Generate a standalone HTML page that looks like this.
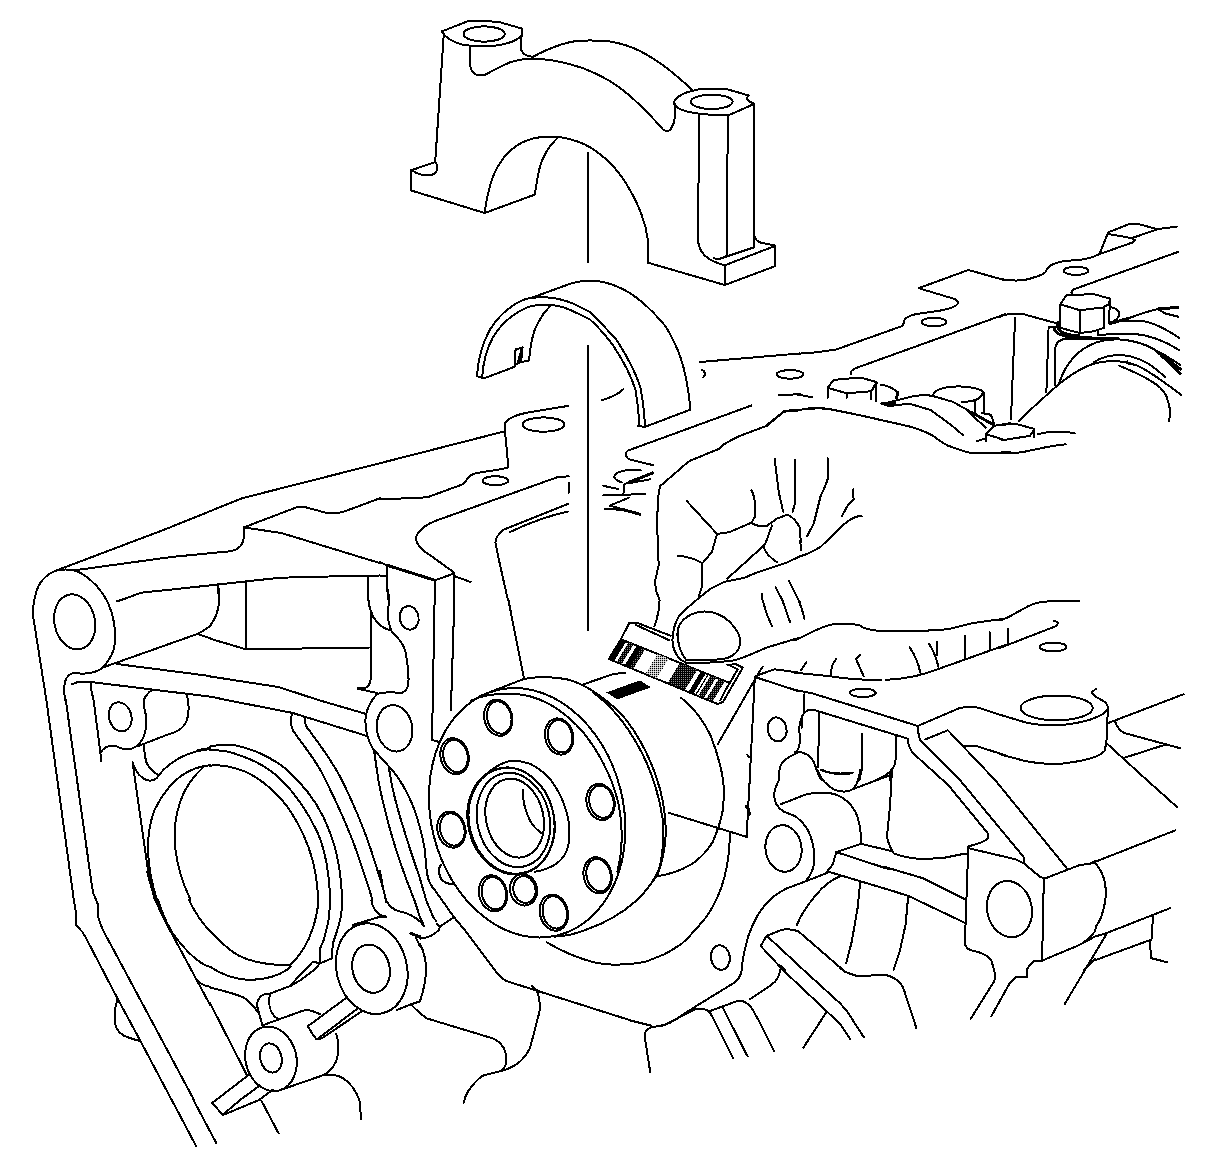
<!DOCTYPE html>
<html><head><meta charset="utf-8">
<style>
html,body{margin:0;padding:0;background:#fff;}
body{width:1223px;height:1168px;overflow:hidden;font-family:"Liberation Sans",sans-serif;}
svg{display:block}
svg *{vector-effect:non-scaling-stroke;shape-rendering:crispEdges}
.l{fill:none;stroke:#000;stroke-width:2;stroke-linecap:round;stroke-linejoin:round}
.t{fill:none;stroke:#000;stroke-width:3;stroke-linecap:round;stroke-linejoin:round}
.w{fill:#fff;stroke:#000;stroke-width:2;stroke-linejoin:round}
.k{fill:#000;stroke:none}
</style></head><body>
<svg width="1223" height="1168" viewBox="0 0 1223 1168">
<rect x="0" y="0" width="1223" height="1168" fill="#fff"/>

<!-- 01_cap.svg -->
<g class="l" id="cap">
<!-- left boss -->
<path d="M441.7,31.5 L468.7,20.8 L497.9,21.7 L521.6,28.5 L521.6,36"/>
<path d="M441.7,31.5 C446,38 452,42 462,44.5 C472,46.5 488,47 500,45 C510,43 518,40 521,35.8"/>
<ellipse cx="484.1" cy="34" rx="20.6" ry="7.7"/>
<path d="M521.6,35.8 C521,42 520.5,47 521.5,50.5 C523,54 527,56.5 533,56.7 C540,53 546,50 554.5,46.9 C562,44 570,41.5 578.6,40.9 C590,40 600,40.5 610,41.5 C622,43.5 632,47 641,51.5 C652,57.5 662,64 671.9,72.1 C680,79 686,84 692.5,90"/>
<path d="M470.4,46 L470.4,66.7 C471,70.5 473,73.5 477,75 C480,75.8 483,75.5 485.9,74.4 C493,70.5 501,66 509.9,62.4 C517,60 525,58.8 532.2,58.6 C540,58.8 547,59.5 554.5,60.7 C565,62.5 574,65 583.7,68.4 C593,72 602,76.5 610,81 C619,87 627,93 634.1,99.6 C642,107 648,113 654.7,120.2 C658,124 661,127.5 663.3,129.8 C666,131 668.5,131 670.2,129.8 C673,126 674.4,122 674.6,118.5 L674.6,103"/>
<path d="M443.8,34 L435.2,162"/>
<path d="M410.6,170.5 L435.2,162 C437,164 437.8,166.5 437.4,168.5 C436.8,171.5 434.5,174 431.8,174.8 L422.3,174.8 C418,174 415,172.5 412.9,171"/>
<path d="M410.6,170.5 L410.6,190.3 L484.7,213"/>
<path d="M484.7,213 C486,203 487.5,195 489.3,188.6 C491.5,180 494,173 497.9,166.2 C503,157.5 509,151 516.8,145.6 C524,141 531,138.5 539.1,137.4 C546,136.6 553,136.6 559.7,137.1 C568,138.5 576,140.5 583.7,143.9 C593,148.5 602,155 610,163 C617,170 622.5,177.5 627.3,185.4 C633,195 637.5,204 641,212.9 C644.5,222 646.8,231 647.9,240.4 L647.9,262.7"/>
<path d="M558,137.4 C552.5,143 548.5,147.5 545.9,152.5 C542.5,158.5 540.5,164 539.1,169.7 C537.5,178 536,186 534.8,194.6 L484.7,213"/>
<!-- right boss -->
<path d="M673.8,102.4 C675,99 677,97.5 679.2,96.2 C683,93.5 687,92 692.3,90.9 C697,89.5 701,89 705.4,88.6 L725,88.6 L748.6,95.5 L746.6,98.1 L749.2,101.4 L754.5,103.8 L730.3,114.5 C726,115 722,115.2 718.5,115.1 C711,114.8 705,114.3 698.9,113.6 C695,113 691,112.5 688.4,111.9 C683,110.5 680,109.5 677.9,107.9 C675.5,106 674,104.5 673.8,102.4"/>
<ellipse cx="711.7" cy="101.8" rx="20.9" ry="7.2"/>
<path d="M698.9,113.6 L698.2,242 C699.9,254.2 708.5,261 724.8,265.3"/>
<path d="M713.6,258 C716,259 719,259 720.5,258.5 L754,247.3"/>
<path d="M727.9,115 L726.5,257"/>
<path d="M754.1,104 L754.3,247.3"/>
<path d="M647.9,262.7 L724.8,285 L775.4,266 L775.4,245.6 L759.1,242.2 C757.5,241.5 756,240 754.8,237"/>
<path d="M724.8,285 L724.8,265.3 L775.4,245.8"/>
</g>
<!-- centre line -->
<g class="l"><path d="M587.7,152.5 L587.7,262"/><path d="M587.7,346 L587.7,630"/></g>

<!-- 02_tileC.svg -->
<g transform="translate(1000,200) scale(0.171709)">
<g class="l">
<path d="M1030,155 L915,170 L800,138 L762,137 L630,188 L580,313"/>
<path d="M630,198 L768,222 L915,171"/>
<path d="M768,222 L785,233 L770,248 L580,315"/>
<path d="M580,315 C540,335 480,350 420,352 C360,355 300,365 275,400 C270,425 250,435 200,450 C150,470 80,475 0,460"/>
<ellipse cx="443" cy="412" rx="72" ry="24"/>
<path d="M1035,303 L430,520 C415,528 413,538 420,545"/>
<!-- bolt -->
<path d="M352,608 L385,555 L545,548 L643,575 L632,608 L600,626 L465,642 Z"/>
<path d="M352,608 L352,745 L465,775 L545,765 L605,745"/>
<path d="M465,642 L465,775"/><path d="M605,626 L605,745"/><path d="M643,575 L632,715"/>
<path d="M650,625 C680,632 695,645 695,665 C692,685 670,705 640,715"/>
<path d="M0,680 C30,665 80,660 130,663 L330,718"/>
<path d="M88,685 L68,1165"/>
<path d="M330,740 L283,742 L270,1120"/>
<path d="M320,1080 L320,880 C320,840 340,815 380,808 L690,806"/>
<path d="M570,770 L570,785 L770,778 C860,785 960,820 1045,875"/>
<path d="M640,715 C700,700 760,700 830,705 C900,715 980,760 1045,805"/>
<path d="M745,690 C800,670 870,645 930,632 L1040,625"/>
<path d="M920,635 L960,660 L1040,680"/>
<path d="M345,1065 C380,960 450,870 560,830 C650,800 760,810 860,850 C920,880 990,920 1050,960"/>
<path d="M240,1165 C330,1080 420,1000 540,955 C640,925 720,935 800,965 C880,1000 980,1080 1055,1135"/>
<path d="M545,945 C600,910 680,895 760,910 C840,930 910,980 960,1030"/>
<path d="M695,965 C780,1000 870,1040 930,1090 C960,1120 975,1150 975,1165"/>
<path d="M740,940 L750,955 L790,960"/>
</g>
<g class="t">
<path d="M340,712 C328,730 335,755 360,770 C390,785 430,790 460,790"/>
<path d="M315,745 C315,770 340,790 430,800 L600,806"/>
<path d="M640,720 L745,690"/>
<path d="M920,635 L1035,625"/>
<path d="M910,880 L1050,985"/><path d="M940,905 L1050,1010"/><path d="M1000,960 L1040,1000"/>
</g>
</g>

<!-- 03_tileD.svg -->
<g transform="translate(795,225) scale(0.171709)">
<g class="l">
<path d="M0,750 C80,748 160,738 240,725 L620,590 C640,580 628,565 640,550 C660,525 700,518 780,508 C860,500 940,480 950,455 C950,440 935,432 920,428 L720,368 L1010,262 L1223,322"/>
<ellipse cx="810" cy="565" rx="72" ry="25"/>
<path d="M1223,520 L350,835 C330,845 322,855 328,868"/>
<path d="M190,948 L225,902 L380,888 L475,915 L445,968 L300,980 Z"/>
<path d="M190,948 L190,1005"/><path d="M300,980 L300,1010"/><path d="M445,968 L445,1015"/><path d="M475,915 L472,1028"/>
<path d="M500,930 C550,935 590,960 600,985"/>
<path d="M0,985 L100,1003"/>
<path d="M0,1080 C60,1070 120,1062 200,1072 C350,1100 500,1135 630,1165"/>
<path d="M805,990 C810,960 870,940 960,940 C1040,942 1090,960 1098,975 L1098,1090"/>
<path d="M1090,985 C1080,1010 1040,1030 970,1030"/>
<path d="M1050,1030 L1050,1090"/>
<path d="M505,1040 C560,1035 620,1010 700,995 C740,990 770,990 800,995 L920,1030 L1160,1165"/>
<path d="M505,1040 L545,1055 L665,1040 L790,1078 L910,1165"/>
<path d="M1090,1095 L1140,1105 L1155,1140"/>
<path d="M1003,1081 L1110,1180"/>
</g>
<g class="t">
<path d="M598,975 L592,1008"/>
<path d="M505,1040 L580,1040"/>
<path d="M1030,1092 L1150,1160"/>
</g>
</g>

<!-- 04_tileE.svg -->
<g transform="translate(590,225) scale(0.171709)">
<g class="l">
<path d="M0,325 C60,322 120,340 180,368 C260,405 340,470 440,590 C500,690 560,800 585,1075 L320,1176 L280,1170 L288,1165"/>
<path d="M0,507 C55,560 110,620 155,670 C220,770 270,870 295,950 C310,1040 318,1100 320,1176"/>
<path d="M0,550 C50,597 100,650 140,710 C200,800 240,880 265,960 C280,1050 285,1110 288,1165"/>
<path d="M70,1020 C120,1005 170,985 195,955"/>
<path d="M640,798 L1223,748"/>
<path d="M650,843 C670,850 675,870 660,888"/>
<ellipse cx="1165" cy="870" rx="78" ry="25"/>
<path d="M1100,992 L1223,985"/>
<path d="M1030,1165 L1130,1085 C1160,1078 1190,1075 1223,1075"/>
</g>
</g>

<!-- 05_tileF.svg -->
<g transform="translate(380,225) scale(0.171709)">
<g class="l">
<path d="M565,880 C570,790 590,700 640,610 C690,530 760,465 850,430 C950,410 1050,425 1130,460 C1170,480 1200,495 1223,507"/>
<path d="M595,890 C600,800 620,720 660,650 C710,570 780,510 870,475 C950,455 1040,465 1110,495 C1160,520 1200,538 1223,550"/>
<path d="M880,425 L1100,345 C1140,330 1180,325 1223,325"/>
<path d="M565,880 L595,890 L620,888 L785,825 L785,760 L790,725 L830,713 L822,798"/>
<path d="M790,812 L822,798 L868,790 C872,750 876,720 880,690 C888,655 895,625 905,600 C920,570 935,545 950,520 C965,500 980,485 995,468"/>
</g>
<g class="t"><path d="M826,728 L806,800"/></g>
</g>

<!-- 06_tileG.svg -->
<g transform="translate(380,400) scale(0.171709)">
<g class="l">
<path d="M1098,34 L850,75 C790,88 740,105 727,140 L728,182 L0,368"/>
<path d="M728,182 L748,392 C700,410 620,412 545,430 C510,445 500,475 485,490 L280,565 L230,570 L0,578"/>
<ellipse cx="952" cy="143" rx="122" ry="42"/>
<ellipse cx="672" cy="470" rx="75" ry="26"/>
<path d="M1100,445 L1040,447 L320,705 C260,730 215,765 208,810 C215,850 250,880 300,910 L432,1005 L432,1165"/>
<path d="M432,1025 L528,1060"/>
<path d="M0,945 L40,962 L320,1050 L432,1010"/>
<path d="M40,962 L40,1090 L50,1165"/><path d="M320,1050 L320,1165"/>
<path d="M0,1022 L40,1025"/>
<path d="M1095,605 L720,755 C690,780 672,800 672,830 L690,920 L745,1165"/>
<path d="M1095,650 C1000,670 900,700 755,770"/>
<path d="M1100,485 L1098,540"/>
</g>
<g class="t"><path d="M40,962 L320,1050"/></g>
</g>

<!-- 07_tileH.svg -->
<g transform="translate(170,400) scale(0.171709)">
<g class="l">
<path d="M1223,368 L420,572 L0,742"/>
<path d="M1223,572 L1000,655 L910,657 L780,622 L745,622 L430,742"/>
<path d="M430,742 L430,800 C425,850 400,870 360,880 L0,915"/>
<path d="M430,742 L650,775 L1223,950"/>
<path d="M0,1105 L640,1035 L1040,1025 L1223,1022"/>
<path d="M278,1070 L285,1165"/><path d="M442,1055 L442,1165"/><path d="M1155,1025 L1155,1165"/>
</g>
</g>

<!-- 08_tileI.svg -->
<g transform="translate(0,500) scale(0.171709)">
<g class="l">
<path d="M990,160 L330,410"/>
<path d="M990,333 L430,410"/>
<path d="M990,522 L820,540 C770,560 720,580 680,590"/>
<path d="M330,410 C270,430 225,480 210,540 C195,590 190,640 195,690 L270,1165"/>
<path d="M330,410 C380,400 430,405 470,425 C530,460 590,520 630,600 C660,670 675,750 670,830 C665,890 640,930 600,975 C570,1000 520,1015 460,1010 C420,1000 390,1020 378,1060 C370,1100 375,1140 380,1165"/>
<ellipse cx="435" cy="710" rx="118" ry="162" transform="rotate(-12 435 710)"/>
<path d="M600,975 L1150,780 C1180,765 1200,750 1223,735"/><path d="M1150,780 L1223,805"/>
<path d="M680,955 L1223,1025"/>
<path d="M420,1072 L460,1058 L530,1060 L1223,1145"/>
<path d="M530,1060 L530,1100 L545,1165"/>
<path d="M835,1165 C850,1140 865,1120 880,1110"/>
<path d="M1085,1130 L1095,1165"/>
</g>
</g>

<!-- 09_tileJ.svg -->
<g transform="translate(0,700) scale(0.171709)">
<g class="l">
<path d="M270,0 L430,1165"/>
<path d="M383,0 L535,1080 L545,1130 L560,1165"/>
<path d="M545,0 L585,310 L588,358"/>
<path d="M585,310 C600,280 630,265 660,265 C690,270 700,285 730,287 C770,290 810,265 835,220 C850,180 855,130 850,90 C840,50 835,25 838,0"/>
<ellipse cx="700" cy="98" rx="65" ry="86" transform="rotate(-15 700 98)"/>
<path d="M1095,0 C1105,60 1095,120 1070,150 C1050,175 1020,190 980,200 L800,270"/>
<path d="M838,262 C840,300 845,340 855,370 C875,400 900,425 925,440"/>
<path d="M772,362 C790,420 820,460 870,470 C900,468 910,460 925,440 C950,400 990,370 1050,335 C1110,305 1170,290 1223,280"/>
<path d="M772,362 L870,1050 L910,1165"/>
<path d="M1223,380 C1160,385 1100,410 1050,445 C990,490 940,560 900,640 C870,720 860,800 862,880 C865,960 880,1060 915,1165"/>
<path d="M1190,385 C1130,440 1080,500 1050,590 C1020,680 1010,770 1020,860 C1030,950 1060,1060 1110,1165"/>
</g>
<g class="t"><path d="M1150,295 L1223,282"/><path d="M860,1000 L905,1165"/></g>
</g>

<!-- 10_tileK.svg -->
<g transform="translate(0,900) scale(0.171709)">
<g class="l">
<path d="M430,0 L440,60 L440,145 C460,165 480,175 500,220 L685,575 L820,825 L1000,1165"/>
<path d="M560,0 L572,30 L572,100 C585,150 610,200 640,250 L1130,1165"/>
<path d="M685,575 C670,620 665,680 670,720 C680,770 720,795 760,805 L815,822"/>
<path d="M905,0 C930,60 970,140 1010,200 C1070,280 1150,370 1223,390"/>
<path d="M920,0 C940,60 970,130 1000,195 L1223,610"/>
<path d="M1100,0 C1130,60 1170,130 1223,180"/>
<path d="M1140,460 C1165,490 1190,500 1223,505"/>
</g>
<g class="t"><path d="M910,0 C930,55 960,120 1000,190"/></g>
</g>

<!-- 11_tileL.svg -->
<g transform="translate(210,900) scale(0.171709)">
<g class="l">
<path d="M0,180 C50,230 100,290 170,325 C240,360 320,380 465,380 C520,330 570,260 600,160 C620,100 628,50 632,0"/>
<path d="M0,388 C60,430 140,460 220,465 C320,465 400,440 450,405 L470,385"/>
<path d="M700,0 C698,40 695,80 690,120 C680,170 670,200 660,240 L640,285 L640,365"/>
<path d="M770,0 L765,80 C758,120 750,150 740,180 L715,255 L710,340 L640,370 L600,358 L470,495"/>
<path d="M635,375 C620,395 605,410 590,420 C560,445 520,475 470,500 L350,545 L320,548 C300,555 290,565 285,575 C275,590 272,605 275,620 L305,730"/>
<path d="M0,510 C80,530 150,545 200,570 C240,600 260,625 275,650"/>
<path d="M0,600 L215,1020"/>
<path d="M350,548 C340,590 345,640 370,670 C380,685 390,690 400,695"/>
<path d="M305,730 L540,645 C570,635 600,645 640,665"/>
<ellipse cx="355" cy="925" rx="148" ry="190" transform="rotate(-14 355 925)"/>
<ellipse cx="355" cy="920" rx="62" ry="86" transform="rotate(-14 355 920)"/>
<path d="M400,1110 L660,1020 C700,1000 735,960 745,900 C750,850 745,810 735,780"/>
<path d="M660,1020 C700,1015 740,1020 770,1035 C810,1060 850,1110 870,1165 L881,1278"/>
<path d="M800,565 L570,735 C585,760 600,790 620,810 L650,806 L885,648"/>
<path d="M625,810 L860,632"/>
<ellipse cx="942" cy="400" rx="205" ry="267" transform="rotate(-14 942 400)"/>
<ellipse cx="938" cy="400" rx="108" ry="142" transform="rotate(-14 938 400)"/>
<path d="M830,145 L1000,95 L1020,100"/><path d="M940,0 C945,40 960,70 1000,92"/>
<path d="M1025,0 C1040,30 1060,55 1100,65 C1150,75 1190,95 1223,125"/>
<path d="M1190,0 L1223,100"/>
<path d="M1200,220 L1223,270"/>
<path d="M1090,640 L1170,608 L1223,590"/><path d="M1170,608 L1223,660"/>
<path d="M35,1165 L230,1015"/><path d="M175,1165 L290,1080"/><path d="M285,1165 L365,1105"/>
</g>
<g class="t"><path d="M1170,195 L1223,215"/></g>
</g>

<!-- 12_tileM.svg -->
<g transform="translate(130,1068) scale(0.171709)">
<g class="l">
<path d="M240,180 L385,455"/><path d="M366,180 L503,438"/>
<path d="M501,187 L478,203 L540,272 L641,187"/>
<path d="M545,272 L751,187"/>
<path d="M765,190 L865,380"/>
</g>
</g>

<!-- 13_tileN.svg -->
<g transform="translate(210,700) scale(0.171709)">
<g class="l">
<path d="M95,0 L480,75 L915,210"/>
<path d="M630,0 L905,80"/>
<path d="M945,0 C920,40 905,80 905,120 C905,180 915,230 950,285 L1040,385 C1110,460 1180,580 1223,745"/>
<ellipse cx="1075" cy="165" rx="103" ry="136" transform="rotate(-10 1075 165)"/>
<path d="M480,80 C465,110 470,150 485,180 C540,260 600,330 650,420 C720,560 800,720 860,900 C900,1020 930,1100 945,1165"/>
<path d="M550,100 C550,130 560,160 580,180 C640,260 700,340 760,450 C830,590 890,730 940,880 C980,1010 1010,1090 1025,1165"/>
<path d="M955,290 L975,430 C990,540 1020,650 1050,760 C1090,900 1140,1040 1190,1165"/>
<path d="M1040,385 L1060,500 C1090,640 1140,800 1223,1040"/>
<path d="M0,270 C40,262 100,260 150,265 C250,285 350,330 440,400 C520,470 600,560 660,680 C720,810 760,930 770,1165"/>
<path d="M0,293 C60,290 120,300 180,325 C270,355 350,400 420,470 C500,550 570,650 630,780 C680,900 695,1020 700,1165"/>
<path d="M0,383 C50,375 120,385 200,415 C300,460 380,530 450,620 C520,720 570,830 600,940 C620,1030 628,1100 630,1165"/>
</g>
</g>

<!-- 14_tileO.svg -->
<g transform="translate(210,560) scale(0.171709)">
<g class="l">
<path d="M45,140 C60,200 55,260 40,310 C30,340 15,365 0,385"/>
<path d="M209,125 L209,520 L925,510"/><path d="M0,458 L209,520"/>
<path d="M922,95 L922,230 C925,270 935,300 950,330 C975,370 1010,400 1050,410"/>
<path d="M935,300 L935,700 C930,730 910,748 885,750 L862,750 L975,775"/>
<path d="M1030,40 L1030,150 C1045,200 1045,250 1035,300 C1035,350 1045,390 1060,420 C1100,460 1130,490 1140,540 C1150,600 1160,680 1155,730 C1145,760 1130,772 1110,775 C1070,770 1020,765 975,780 C965,790 955,800 945,815"/>
<ellipse cx="1160" cy="337" rx="55" ry="69" transform="rotate(-10 1160 337)"/>
<path d="M0,678 L400,740 L630,815"/><path d="M0,795 L95,815"/>
</g>
<g class="t"><path d="M862,750 L890,750"/></g>
</g>

<!-- 15_tileP.svg -->
<g transform="translate(420,600) scale(0.171709)">
<g class="l">
<path d="M85,0 L70,815 L105,825"/>
<path d="M200,0 L180,640"/>
<path d="M515,0 L605,455"/>
<path d="M940,495 L1130,430 L1195,425"/>
</g>
</g>

<!-- 16_tileQ.svg -->
<g transform="translate(590,400) scale(0.171709)">
<g class="l">
<path d="M940,32 L220,295 C205,305 205,330 225,345 L370,380"/>
<path d="M1223,60 L1130,68 L1030,150 L870,210 C830,230 790,250 770,265 L750,285 L580,355 C540,385 510,415 480,440 L410,500 L400,540 L390,700 L400,960 L378,1060 L385,1110 L405,1165"/>
<path d="M295,410 C250,400 180,410 150,430 C130,450 150,470 185,480"/>
<path d="M365,425 L200,490 L195,545"/><path d="M350,462 L240,482"/>
<path d="M78,500 L165,518"/><path d="M78,555 L320,548"/>
<path d="M225,570 L115,615 L290,665"/><path d="M85,632 L180,640"/>
<path d="M565,590 L740,780 L810,770 L940,715"/>
<path d="M940,525 C960,560 965,620 960,680 L940,715 C960,730 990,738 1030,733 L1090,690 L1150,668 C1180,680 1205,710 1223,745"/>
<path d="M740,780 L710,885 L655,950"/><path d="M510,908 C560,910 620,930 655,950 L655,1080 L635,1140"/>
<path d="M1075,342 L1100,540 L1125,650"/><path d="M1192,348 L1195,600 L1180,650"/>
<path d="M1060,730 L1020,840 L1010,850 L800,1040"/><path d="M1010,850 C1020,890 1050,920 1090,945"/>
<path d="M620,1165 L700,1100 L780,1060 L900,1035 L970,1005 L1150,945 L1223,910"/>
<path d="M1000,1130 L1005,1165"/><path d="M1080,1090 L1120,1165"/><path d="M1160,1055 L1215,1165"/>
</g>
<g class="t"><path d="M365,425 L230,478"/><path d="M180,635 L290,665"/></g><g class="l"><path d="M1222,745 L1228,830"/></g>
</g>

<!-- 17_tileR.svg -->
<g transform="translate(800,400) scale(0.171709)">
<g class="l">
<path d="M0,58 C40,48 80,44 120,46 C200,55 300,80 400,100 C500,125 580,140 640,155 C690,170 730,185 760,200 C800,225 830,250 860,265 C900,280 940,295 970,303 C1000,310 1040,312 1090,311 C1140,310 1190,305 1223,300"/>
<path d="M881,146 L950,205"/>
<path d="M1126,121 L1130,150 L1223,135"/><path d="M1130,150 L1085,195 L1085,240"/><path d="M1030,240 L1085,222"/><path d="M1085,200 L1190,232 L1223,228"/>
<path d="M162,340 L165,450 C150,500 130,540 120,560 L80,720 L40,795"/>
<path d="M310,520 L312,580 L280,610 L243,678"/>
<path d="M0,910 C40,900 80,880 120,855 C170,810 220,750 280,705 C310,685 340,672 362,678"/>
<path d="M0,820 L8,875"/>
</g>

</g>

<!-- 18_tileS.svg -->
<g transform="translate(1000,380) scale(0.171709)">
<g class="l">
<path d="M68,116 L65,228"/>
<path d="M240,116 C190,160 150,200 110,240"/>
<path d="M975,116 C990,150 995,190 985,240"/>
<path d="M0,262 L90,255 L200,285 L200,335"/><path d="M200,285 L175,325 L20,350 L0,345"/>
<path d="M218,315 C280,300 360,295 435,310"/>
<path d="M0,425 C60,430 120,425 180,410 C250,395 320,378 382,375"/>
</g>
</g>

<!-- 19_tileT.svg -->
<g transform="translate(590,580) scale(0.171709)">
<defs><pattern id="dt" width="2" height="2" patternUnits="userSpaceOnUse" patternTransform="scale(5.82381)"><rect width="2" height="2" fill="#fff"/><rect width="1" height="1" fill="#000"/></pattern><pattern id="dd" width="2" height="2" patternUnits="userSpaceOnUse" patternTransform="scale(5.82381)"><rect width="2" height="2" fill="#000"/><rect x="1" y="1" width="1" height="1" fill="#fff"/></pattern></defs>
<g class="l">
<path d="M405,117 C405,160 400,200 375,270"/>
<path d="M620,117 C580,150 540,185 515,215 C495,250 482,300 480,350 C482,400 500,440 530,465 L560,482 C640,485 740,480 830,470 C900,455 960,420 1040,390 L1223,335"/>
<path d="M510,300 C515,250 560,200 640,185 C700,178 760,195 810,240 C850,280 880,330 875,370 C870,410 840,440 800,455 C730,468 620,470 560,465 C530,430 505,360 510,300 Z"/>
<path d="M1005,117 L1030,200 L1060,270"/><path d="M1120,117 L1165,245"/><path d="M1215,117 L1223,130"/>
<path d="M180,345 L230,248 L275,250 L470,325"/><path d="M268,262 L460,350"/>
<path d="M180,345 L815,600"/><path d="M110,460 L700,705 L745,722 L775,710 L890,510 L850,490 L800,495"/><path d="M180,345 L110,460"/>
<path d="M860,520 L790,640 L760,700"/><path d="M815,600 L860,520 L820,500"/>
<path d="M530,685 C600,740 660,820 700,900 C740,1000 765,1100 775,1165"/>
<path d="M1005,505 L960,580 L745,955"/>
<path d="M960,565 L1223,650"/><path d="M960,565 L975,555 L1075,520 L1223,540"/><path d="M960,565 L930,1165"/>
<ellipse cx="1090" cy="870" rx="55" ry="70" transform="rotate(-10 1090 870)"/>
<path d="M1223,1000 C1180,1020 1130,1040 1110,1080 C1100,1110 1100,1140 1100,1165"/>
</g>
<polygon class="k" points="180.0,345.0 211.1,357.5 141.1,472.5 110.0,460.0"/>
<polygon fill="url(#dd)" points="225.1,363.1 254.3,374.8 184.3,489.8 155.1,478.1"/>
<polygon class="k" points="272.1,382.0 300.6,393.4 230.6,508.4 202.1,497.0"/>
<polygon fill="url(#dd)" points="300.6,393.4 322.2,402.1 252.2,517.1 230.6,508.4"/>
<polygon fill="url(#dt)" points="394.0,430.9 458.8,456.9 388.8,571.9 324.0,545.9"/>
<polygon fill="url(#dd)" points="523.5,483.0 624.5,523.5 554.5,638.5 453.5,598.0"/>
<polygon class="k" points="646.1,532.2 674.7,543.6 604.7,658.6 576.1,647.2"/>
<polygon class="k" points="685.5,548.0 692.4,550.8 622.4,665.8 615.5,663.0"/>
<polygon fill="url(#dd)" points="703.2,555.1 735.6,568.1 665.6,683.1 633.2,670.1"/>
<polygon fill="url(#dd)" points="750.2,574.0 786.4,588.5 716.4,703.5 680.2,689.0"/>
<polygon class="k" points="95,655 290,585 355,625 160,695"/>
<g class="l"><path d="M914,1016 L927,1030"/></g>
</g>

<!-- 20_flange.svg -->
<g transform="translate(410,660) scale(0.24059)">
<g class="l">
<!-- back rim -->
<path d="M290,150 L470,80 C520,68 600,68 660,82 C740,105 830,170 900,250 C960,330 1010,430 1040,540 C1065,640 1070,740 1050,820 C1040,870 1025,900 1010,920"/>
<path d="M760,135 C840,190 900,270 950,360 C1000,450 1035,560 1050,660 C1058,740 1050,820 1030,890"/>
<path d="M1040,860 C1000,960 900,1060 740,1118 C700,1135 650,1148 600,1150"/>
<!-- front face -->
<ellipse cx="487" cy="635" rx="400" ry="525" transform="rotate(-14 487 635)"/>
<path d="M255,168 C320,140 400,135 470,145 C560,160 640,210 720,300 C790,390 840,490 865,590 C885,690 885,790 862,880"/>
<!-- hub -->
<path d="M330,462 C360,440 390,425 420,418 C450,418 480,425 500,432 C535,450 560,470 580,492 C610,530 630,570 642,605 C655,640 662,675 662,705 C664,740 660,770 650,795 C640,820 622,838 600,852 C575,866 548,876 520,880"/>
<ellipse cx="422" cy="668" rx="176" ry="222" transform="rotate(-13 422 668)"/>
<ellipse cx="420" cy="669" rx="179" ry="224" transform="rotate(-13 420 669)"/>
<ellipse cx="430" cy="665" rx="150" ry="198" transform="rotate(-13 430 665)"/>
<ellipse cx="435" cy="657" rx="119" ry="166" transform="rotate(-13 435 657)"/>
<path d="M470,540 C468,570 472,590 476,605 C482,630 490,650 500,670 C512,692 530,708 550,722"/>
</g>
<g class="l" id="holes">
<g transform="translate(367,240)"><ellipse cx="0" cy="0" rx="58" ry="76" transform="rotate(-13)"/><ellipse cx="4" cy="0" rx="50" ry="68" transform="rotate(-13)"/></g>
<g transform="translate(620,318)"><ellipse cx="0" cy="0" rx="58" ry="76" transform="rotate(-13)"/><ellipse cx="4" cy="0" rx="50" ry="68" transform="rotate(-13)"/></g>
<g transform="translate(185,400)"><ellipse cx="0" cy="0" rx="58" ry="76" transform="rotate(-13)"/><ellipse cx="4" cy="0" rx="50" ry="68" transform="rotate(-13)"/></g>
<g transform="translate(792,590)"><ellipse cx="0" cy="0" rx="58" ry="76" transform="rotate(-13)"/><ellipse cx="4" cy="0" rx="50" ry="68" transform="rotate(-13)"/></g>
<g transform="translate(172,705)"><ellipse cx="0" cy="0" rx="58" ry="76" transform="rotate(-13)"/><ellipse cx="4" cy="0" rx="50" ry="68" transform="rotate(-13)"/></g>
<g transform="translate(780,895)"><ellipse cx="0" cy="0" rx="58" ry="76" transform="rotate(-13)"/><ellipse cx="4" cy="0" rx="50" ry="68" transform="rotate(-13)"/></g>
<g transform="translate(345,970)"><ellipse cx="0" cy="0" rx="58" ry="76" transform="rotate(-13)"/><ellipse cx="4" cy="0" rx="50" ry="68" transform="rotate(-13)"/></g>
<g transform="translate(598,1050)"><ellipse cx="0" cy="0" rx="58" ry="76" transform="rotate(-13)"/><ellipse cx="4" cy="0" rx="50" ry="68" transform="rotate(-13)"/></g>
<g transform="translate(472,955)"><ellipse cx="0" cy="0" rx="56" ry="66" transform="rotate(-13)"/><ellipse cx="4" cy="0" rx="46" ry="56" transform="rotate(-13)"/></g>
</g>
</g>

<!-- 21_tileU.svg -->
<g transform="translate(795,580) scale(0.171709)">
<g class="l">
<path d="M21,117 L40,170 L55,225"/>
<path d="M0,350 C50,330 100,300 150,280 C180,268 210,258 240,255 L370,260 L400,280 C450,292 500,300 540,300 L700,298 C770,295 840,292 900,285 L1040,250 L1223,225"/>
<path d="M0,540 L200,560 C280,572 340,578 400,580 L500,582"/><path d="M530,582 C590,578 650,570 700,560 C750,548 790,535 830,520 L1223,380"/>
<path d="M65,480 L35,525"/><path d="M240,458 L215,500 L208,555"/><path d="M380,435 L355,460 L400,560"/>
<path d="M668,392 C700,440 720,490 730,540"/><path d="M780,370 C805,410 825,460 835,505"/><path d="M826,362 L826,440"/><path d="M990,328 L988,455"/><path d="M1135,305 L1135,400"/>
<ellipse cx="395" cy="657" rx="75" ry="25"/>
<path d="M0,640 L100,660 L715,850 L960,745 C1000,738 1040,738 1075,745 L1223,795"/>
<path d="M55,665 L55,770 C35,800 25,830 25,870 L30,940 C25,970 15,1000 0,1010"/><path d="M40,790 L40,860"/>
<path d="M55,770 C70,760 90,752 105,755 L660,925 L660,950 C670,990 685,1010 700,1020 L860,1165"/>
<path d="M715,850 L720,900 C725,930 735,945 750,955 L960,1165"/>
<path d="M760,928 L890,875 L1165,1165"/><path d="M985,968 L1050,965 L1223,1020"/>
<path d="M140,775 L135,1090"/><path d="M390,895 L390,1100 L375,1165"/><path d="M590,910 L585,1060 C575,1100 540,1140 470,1165"/><path d="M555,1120 L555,1165"/>
<path d="M0,1000 C50,1000 90,1020 110,1060 C125,1100 135,1140 155,1165"/>
<path d="M155,1105 C210,1130 280,1135 335,1125"/>
</g>
</g>

<!-- 22_tileV.svg -->
<g transform="translate(1000,580) scale(0.171709)">
<g class="l">
<path d="M0,235 C30,228 50,215 60,210 L160,155 C190,140 210,133 230,130 L300,122 L460,122"/>
<path d="M0,395 L310,275 C330,268 340,255 335,245 L315,238"/><path d="M45,285 L45,375"/>
<ellipse cx="310" cy="390" rx="78" ry="26"/>
<ellipse cx="330" cy="745" rx="210" ry="72"/>
<path d="M0,785 C50,800 100,815 150,830 C200,840 240,845 280,845 C320,848 360,845 400,840 C450,832 490,825 520,815 C560,800 585,790 600,780 C615,770 625,758 630,745"/>
<path d="M560,632 L535,655 C545,680 580,690 610,710 C625,725 630,735 628,745 L625,830 L620,940 L610,995 C590,1015 565,1028 540,1035 C500,1048 465,1055 430,1060 C380,1070 340,1072 300,1072 C250,1070 200,1065 150,1055 L0,1015"/>
<path d="M625,835 L1070,665"/><path d="M670,825 C680,850 695,875 720,890 L1050,980"/><path d="M725,1035 L960,960"/><path d="M620,950 L855,1165"/>
</g>
</g>

<!-- 23_tileW.svg -->
<g transform="translate(680,770) scale(0.171709)">
<g class="l">
<path d="M406,58 L398,200 L395,240 L390,390 L-66,249"/>
<path d="M251,58 C258,120 256,180 248,240 C240,290 220,350 190,420 C160,470 120,510 80,540 C50,560 25,570 11,578 C-30,595 -87,613 -143,620"/>
<path d="M576,58 C560,90 548,120 548,150 C550,190 570,220 600,240 C630,255 660,260 680,275 C710,300 730,325 745,350 C765,390 778,440 782,490 C785,530 780,560 770,585 C760,610 750,625 738,640"/>
<ellipse cx="603" cy="457" rx="105" ry="136" transform="rotate(-8 603 457)"/>
<path d="M290,368 C290,460 280,540 260,620 C240,700 200,790 150,860 C100,920 50,980 0,1020"/>
<path d="M585,200 L740,140 C800,130 860,130 900,140 C960,160 1000,200 1025,250 C1050,310 1055,370 1055,430"/>
<path d="M800,0 C820,50 850,90 900,115 C940,130 980,130 1010,110 L1223,30"/><path d="M1010,110 C1035,80 1045,40 1050,0"/><path d="M820,0 C870,20 940,25 1005,15"/>
<path d="M1055,430 L910,478 L1223,580"/><path d="M1055,430 L1223,470"/><path d="M910,478 L890,550 L858,590 L1223,700"/>
<path d="M360,1165 C362,1130 366,1100 370,1080 C380,1040 388,1000 400,960 C415,920 430,885 450,850 C470,815 495,785 520,760 C550,730 585,708 620,690 L740,645 L860,598"/>
<path d="M935,618 C880,640 830,680 790,730 C740,790 700,850 680,905"/>
<path d="M1050,650 L1035,800 L1000,1000 L968,1125"/>
<path d="M470,1025 L505,965 L590,932 C620,925 660,928 690,940 L950,1165"/><path d="M470,1025 L600,1165"/><path d="M505,965 L720,1165"/>
<ellipse cx="235" cy="1092" rx="55" ry="72" transform="rotate(-8 235 1092)"/>
</g>
<g class="t"><path d="M400,228 L403,258"/><path d="M385,215 L398,225"/><path d="M580,1140 L610,1165"/></g>
</g>

<!-- 24_tileX.svg -->
<g transform="translate(885,770) scale(0.171709)">
<g class="l">
<path d="M40,5 L30,200 L12,380 C12,410 30,450 50,485 C100,505 160,515 200,517 C250,518 300,515 340,512 L440,492 L480,490"/>
<path d="M0,565 L220,630 L470,755"/><path d="M0,690 L140,735 L465,890"/><path d="M135,735 L120,900 L85,1060 L50,1165"/>
<path d="M336,58 L370,90 L600,370 C605,385 600,400 585,410 C560,425 520,435 485,445 L485,460"/>
<path d="M436,58 L810,510 L810,545"/>
<path d="M641,58 L1065,580"/>
<path d="M485,455 L465,1010 C470,1040 490,1050 520,1055 C570,1065 600,1080 620,1110 L635,1165"/>
<path d="M485,455 L760,520 L810,545 L900,620 L930,632 L1130,555 L1223,540"/><path d="M1190,550 L1223,530"/>
<path d="M925,632 L915,1110 L1130,1020 C1170,1000 1200,970 1223,940"/><path d="M1130,1020 L1223,970"/>
<path d="M915,1110 L870,1112 C850,1125 835,1145 825,1165"/>
<path d="M1160,1165 L1223,1100"/>
<ellipse cx="725" cy="810" rx="130" ry="165" transform="rotate(-12 725 810)"/>
</g>
</g>

<!-- 25_tileY.svg -->
<g transform="translate(1000,770) scale(0.171709)">
<g class="l">
<path d="M855,58 L1030,215"/>
<path d="M520,548 L1020,352"/>
<path d="M553,540 C580,570 600,610 610,650 C620,700 615,770 600,820 C590,860 575,890 560,910 L553,940"/>
<path d="M553,970 L620,950 L990,805"/>
<path d="M620,955 L376,1364"/><path d="M520,1120 L875,990"/><path d="M890,850 L885,980 L875,995 L878,1095 L975,1120"/>
</g>
</g>

<!-- 26_tileZ.svg -->
<g transform="translate(420,930) scale(0.171709)">
<g class="l">
<path d="M0,50 C40,48 80,30 110,0"/>
<path d="M0,415 C15,370 30,310 35,250 C38,190 25,130 0,80"/>
<path d="M0,485 L40,515 L420,630 C460,645 490,680 500,720 L498,790 L475,820"/>
<path d="M260,0 L440,240 C460,265 480,285 505,298 L1223,525"/>
<path d="M650,325 L680,350 C700,400 700,450 695,480 L640,690 C610,750 560,800 475,820 L360,850 C320,885 280,930 265,970 L255,1005"/>
<path d="M738,72 C820,120 920,165 1020,190 C1090,205 1160,205 1223,195"/>
</g>
</g>

<!-- 27_tileAA.svg -->
<g transform="translate(630,950) scale(0.171709)">
<g class="l">
<path d="M0,80 C40,80 70,72 100,65 L200,25 L245,0 L290,-30"/>
<path d="M0,410 L120,440"/>
<path d="M651,117 C645,150 635,175 600,195 L380,330 L240,420 C220,432 200,440 125,450"/>
<path d="M125,450 C100,460 85,480 85,500 L118,712"/>
<path d="M125,450 L200,438 L380,345 C400,340 430,340 450,352 C470,365 480,385 490,410 L600,630"/>
<path d="M460,358 L630,295 C660,292 690,315 710,340 C725,365 740,395 755,420 L840,590"/>
<path d="M540,335 L685,620"/>
<path d="M891,117 L1223,430"/><path d="M1011,117 L1223,310"/>
<path d="M880,92 C875,140 860,180 820,205 L697,288"/>
<path d="M1145,360 L1010,568"/>
</g>
</g>

<!-- 28_tileAB.svg -->
<g transform="translate(840,950) scale(0.171709)">
<g class="l">
<path d="M0,105 L30,128 L95,150 L210,148 L260,145 C290,148 330,170 350,190 C365,210 372,230 375,240 L445,455"/>
<path d="M0,310 L40,355 L140,510"/><path d="M0,430 L60,520"/>
<path d="M897,117 C905,140 903,165 898,182 L760,402"/>
<path d="M1087,117 L1090,155 L1020,160 L990,190 L882,385"/>
</g>
</g>

<!-- 29_tileAD.svg -->
<g transform="translate(380,780) scale(0.154185)">
<g class="l">
<path d="M259,890 L285,945"/>
<path d="M259,640 L300,780 L345,890 L365,915"/>
<path d="M259,311 C275,370 285,410 290,450 L300,560 C305,610 310,640 320,660 C335,690 345,705 360,720 L480,890 L549,973"/>
<path d="M395,548 C380,570 378,600 395,640 C410,660 440,675 475,675"/>
<path d="M0,590 L20,700 L40,790"/>
<path d="M259,917 L285,945"/>
<path d="M480,890 L390,950 L370,935"/><path d="M390,950 L382,973"/>
</g>
<g class="t"><path d="M0,880 L35,888"/></g>
</g>

</svg>
</body></html>
